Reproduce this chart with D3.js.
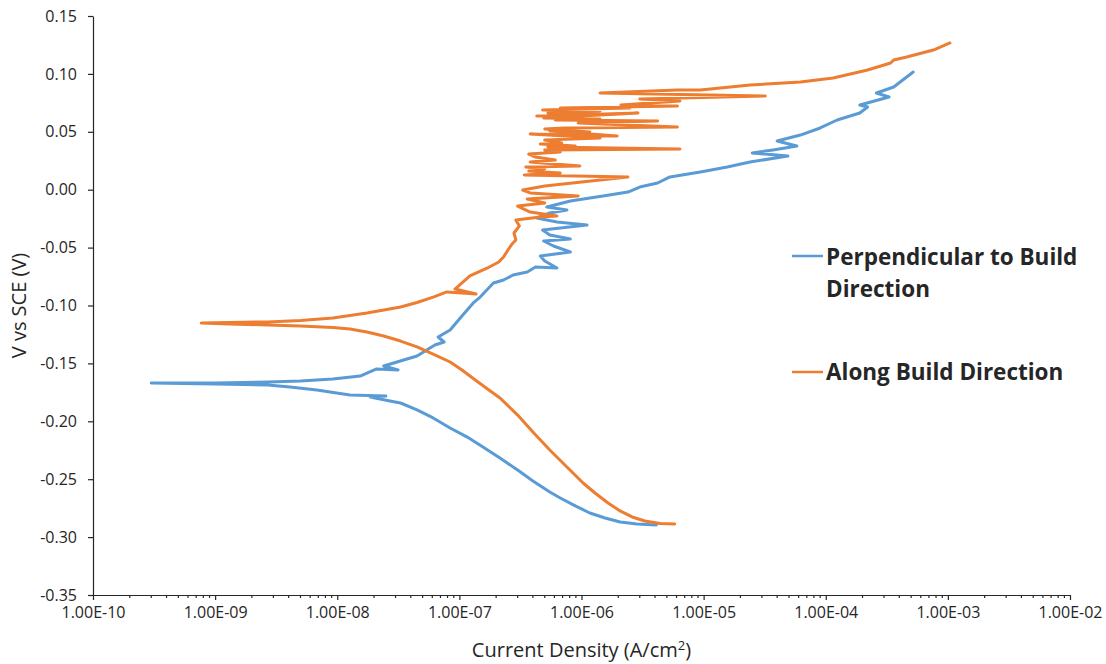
<!DOCTYPE html>
<html>
<head>
<meta charset="utf-8">
<script src="https://cdn.jsdelivr.net/npm/d3@7"></script>
<style>
body { margin: 0; background: #fff; }
text { font-family: "Open Sans", sans-serif; fill: #262626; }
</style>
</head>
<body>
<svg id="chart" width="1106" height="664"></svg>
<script>

// Perpendicular to build direction (cathodic end -> anodic end)
var perpCurrent = [4.1e-6, 2.85e-6, 2.07e-6, 1.56e-6, 1.17e-6, 8.9e-7, 6.7e-7, 5.5e-7, 4.0e-7, 3.0e-7,
  2.15e-7, 1.56e-7, 1.16e-7, 8.4e-8, 6.1e-8, 4.5e-8, 3.3e-8, 2.7e-8, 1.86e-8, 2.5e-8,
  1.27e-8, 6.8e-9, 4.1e-9, 2.7e-9, 1.0e-9, 3.0e-10,
  1.0e-9, 2.7e-9, 5.0e-9, 9.2e-9, 1.54e-8, 2.1e-8, 3.15e-8, 2.4e-8, 4.5e-8, 6.3e-8,
  7.5e-8, 6.7e-8, 8.4e-8, 1.05e-7, 1.3e-7,
  1.48e-7, 1.9e-7, 2.3e-7, 2.75e-7, 3.6e-7, 4.2e-7, 6.3e-7, 5.0e-7, 4.6e-7,
  8.1e-7, 5.9e-7, 4.9e-7, 8.1e-7, 5.5e-7, 4.8e-7, 1.11e-6, 6.3e-7, 4.3e-7, 5.5e-7,
  7.6e-7, 5.2e-7, 8.1e-7, 1.5e-6, 2.4e-6, 3.0e-6, 4.2e-6, 5.3e-6, 9.4e-6, 1.56e-5,
  2.4e-5, 4.9e-5, 2.5e-5, 3.7e-5, 5.8e-5, 4.0e-5, 6.2e-5, 9.0e-5, 1.24e-4, 1.9e-4,
  2.2e-4, 1.9e-4, 3.3e-4, 2.6e-4, 3.6e-4, 5.2e-4];
var perpPotential = [-0.2895, -0.2887, -0.2870, -0.2835, -0.2792, -0.2731, -0.2662, -0.2610, -0.2515, -0.2421,
  -0.2317, -0.2222, -0.2136, -0.2058, -0.1971, -0.1902, -0.1842, -0.1825, -0.1790, -0.1782,
  -0.1773, -0.1730, -0.1704, -0.1687, -0.1678, -0.1669,
  -0.1669, -0.1661, -0.1652, -0.1635, -0.1609, -0.1548, -0.1557, -0.1522, -0.1436, -0.1341,
  -0.1315, -0.1272, -0.1212, -0.1091, -0.0978,
  -0.0927, -0.0806, -0.0780, -0.0737, -0.0711, -0.0668, -0.0676, -0.0616, -0.0573,
  -0.0538, -0.0486, -0.0443, -0.0426, -0.0391, -0.0348, -0.0305, -0.0279, -0.0244, -0.0201,
  -0.0175, -0.0149, -0.0098, -0.0054, -0.0020, 0.0023, 0.0058, 0.0110, 0.0153, 0.0196,
  0.0239, 0.0291, 0.0317, 0.0343, 0.0377, 0.0421, 0.0472, 0.0533, 0.0602, 0.0662,
  0.0714, 0.0731, 0.0801, 0.0835, 0.0887, 0.1016];

// Along build direction
var alongCurrent = [5.8e-6, 4.4e-6, 3.3e-6, 2.6e-6, 2.07e-6, 1.65e-6, 1.29e-6, 1.03e-6, 7.6e-7, 5.5e-7,
  4.0e-7, 3.0e-7, 2.15e-7, 1.7e-7, 1.35e-7, 1.05e-7, 8.4e-8, 6.1e-8, 4.5e-8, 3.3e-8,
  2.4e-8, 1.75e-8, 1.27e-8, 9.2e-9, 5.0e-9, 2.7e-9, 1.3e-9, 7.7e-10,
  1.3e-9, 2.7e-9, 5.0e-9, 9.2e-9, 1.75e-8, 3.3e-8, 4.5e-8, 6.1e-8, 7.9e-8,
  1.37e-7, 9.2e-8, 1.22e-7, 1.7e-7, 2.1e-7, 2.3e-7, 2.5e-7, 2.7e-7, 2.9e-7, 2.8e-7,
  3.1e-7, 2.9e-7, 4.6e-7, 6.3e-7, 3.8e-7, 3.0e-7, 5.0e-7, 3.6e-7, 9.4e-7, 3.8e-7,
  3.3e-7, 5.0e-7, 2.4e-6, 3.4e-7, 6.7e-7, 3.7e-7, 5.0e-7, 3.5e-7, 9.7e-7, 3.8e-7,
  6.1e-7, 4.2e-7, 3.7e-7, 6.7e-7, 5.0e-7, 6.4e-6, 5.3e-7, 8.9e-7, 4.6e-7, 6.9e-7,
  5.0e-7, 1.42e-6, 3.8e-7, 1.96e-6, 5.5e-7, 1.17e-6, 5.0e-7, 7.3e-7, 6.1e-6, 9.4e-7,
  4.2e-6, 6.1e-7, 1.42e-6, 4.9e-7, 2.9e-6, 4.3e-7, 9.7e-7, 5.3e-7, 1.42e-6, 4.8e-7,
  2.5e-6, 6.7e-7, 6.1e-6, 2.1e-6, 6.4e-6, 3.0e-6, 3.2e-5, 1.42e-6, 6.1e-6, 9.4e-6,
  2.4e-5, 6.2e-5, 1.15e-4, 2.2e-4, 3.4e-4, 3.6e-4, 4.6e-4, 7.6e-4, 1.04e-3];
var alongPotential = [-0.2887, -0.2883, -0.2861, -0.2826, -0.2774, -0.2705, -0.2619, -0.2533, -0.2395, -0.2248,
  -0.2093, -0.1946, -0.1799, -0.1721, -0.1643, -0.1557, -0.1488, -0.1419, -0.1358, -0.1307,
  -0.1263, -0.1229, -0.1203, -0.1190, -0.1177, -0.1168, -0.1160, -0.1151,
  -0.1146, -0.1142, -0.1129, -0.1108, -0.1065, -0.1013, -0.0974, -0.0927, -0.0883,
  -0.0901, -0.0858, -0.0745, -0.0676, -0.0624, -0.0581, -0.0521, -0.0469, -0.0434, -0.0374,
  -0.0313, -0.0262, -0.0236, -0.0227, -0.0193, -0.0141, -0.0115, -0.0080, -0.0054, -0.0028,
  -0.0003, 0.0032, 0.0110, 0.0127, 0.0144, 0.0161, 0.0179, 0.0196, 0.0205, 0.0239,
  0.0256, 0.0282, 0.0308, 0.0326, 0.0343, 0.0351, 0.0369, 0.0377, 0.0395, 0.0403,
  0.0429, 0.0446, 0.0481, 0.0464, 0.0507, 0.0498, 0.0524, 0.0533, 0.0541, 0.0576,
  0.0593, 0.0602, 0.0611, 0.0619, 0.0662, 0.0636, 0.0645, 0.0662, 0.0680, 0.0688,
  0.0706, 0.0706, 0.0723, 0.0731, 0.0766, 0.0783, 0.0809, 0.0835, 0.0861, 0.0861,
  0.0904, 0.0930, 0.0965, 0.1034, 0.1094, 0.1120, 0.1146, 0.1206, 0.1267];

var xTickValues = [1e-10, 1e-9, 1e-8, 1e-7, 1e-6, 1e-5, 1e-4, 1e-3, 1e-2];
var xTickLabels = ["1.00E-10", "1.00E-09", "1.00E-08", "1.00E-07", "1.00E-06", "1.00E-05", "1.00E-04", "1.00E-03", "1.00E-02"];
var yTickValues = [-0.35, -0.30, -0.25, -0.20, -0.15, -0.10, -0.05, 0.00, 0.05, 0.10, 0.15];
var yTickLabels = ["-0.35", "-0.30", "-0.25", "-0.20", "-0.15", "-0.10", "-0.05", "0.00", "0.05", "0.10", "0.15"];

var margin = {top: 16, right: 36, bottom: 69, left: 93};
var width = 1106 - margin.left - margin.right;
var height = 664 - margin.top - margin.bottom;

var svg = d3.select("#chart");
var g = svg.append("g").attr("transform", "translate(" + margin.left + "," + margin.top + ")");

var x = d3.scaleLog().domain([1e-10, 1e-2]).range([0, width]);
var y = d3.scaleLinear().domain([-0.35, 0.15]).range([height, 0]);

// minor ticks on the log axis
var minor = [];
for (var k = -10; k < -2; k++) {
  for (var m = 2; m <= 9; m++) minor.push(m * Math.pow(10, k));
}
g.append("g").selectAll("line").data(minor).enter().append("line")
  .attr("x1", function (d) { return x(d); }).attr("x2", function (d) { return x(d); })
  .attr("y1", height).attr("y2", height + 3)
  .attr("stroke", "#262626").attr("stroke-width", 1.2);

var xAxis = g.append("g")
  .attr("transform", "translate(0," + height + ")")
  .call(d3.axisBottom(x).tickValues(xTickValues)
    .tickFormat(function (d, i) { return xTickLabels[i]; })
    .tickSize(5).tickSizeOuter(0).tickPadding(7));

var yAxis = g.append("g")
  .call(d3.axisLeft(y).tickValues(yTickValues)
    .tickFormat(function (d, i) { return yTickLabels[i]; })
    .tickSize(5).tickSizeOuter(0).tickPadding(11));

[xAxis, yAxis].forEach(function (a) {
  a.selectAll("path, line").attr("stroke", "#262626").attr("stroke-width", 1.2);
  a.selectAll("text").style("font-size", "16px").attr("fill", "#262626");
});

var line = d3.line()
  .x(function (d) { return x(d[0]); })
  .y(function (d) { return y(d[1]); });

var series = [
  {name: "Perpendicular", color: "#5B9BD5", pts: d3.zip(perpCurrent, perpPotential)},
  {name: "Along", color: "#ED7D31", pts: d3.zip(alongCurrent, alongPotential)}
];

g.selectAll(".series").data(series).enter().append("path")
  .attr("class", "series")
  .attr("d", function (d) { return line(d.pts); })
  .attr("fill", "none")
  .attr("stroke", function (d) { return d.color; })
  .attr("stroke-width", 3)
  .attr("stroke-linejoin", "round")
  .attr("stroke-linecap", "round");

// axis titles
var xt = svg.append("text")
  .attr("x", margin.left + width / 2).attr("y", 657)
  .attr("text-anchor", "middle")
  .style("font-size", "20px");
xt.append("tspan").text("Current Density (A/cm");
xt.append("tspan").text("2").attr("dy", "-7").style("font-size", "13px");
xt.append("tspan").text(")").attr("dy", "7");

svg.append("text")
  .attr("transform", "translate(26," + (margin.top + height / 2) + ") rotate(-90)")
  .attr("text-anchor", "middle")
  .style("font-size", "20px")
  .text("V vs SCE (V)");

// legend
var legend = svg.append("g");
legend.append("line").attr("x1", 792).attr("x2", 823).attr("y1", 256).attr("y2", 256)
  .attr("stroke", "#5B9BD5").attr("stroke-width", 2.5);
legend.append("line").attr("x1", 792).attr("x2", 823).attr("y1", 372).attr("y2", 372)
  .attr("stroke", "#ED7D31").attr("stroke-width", 2.5);
var lt = legend.append("text").attr("x", 826).attr("y", 265)
  .style("font-size", "22.5px").style("font-weight", "bold").attr("fill", "#000");
lt.append("tspan").attr("x", 826).text("Perpendicular to Build");
lt.append("tspan").attr("x", 826).attr("dy", 32).text("Direction");
legend.append("text").attr("x", 826).attr("y", 380)
  .style("font-size", "22.5px").style("font-weight", "bold").attr("fill", "#000")
  .text("Along Build Direction");

</script>
</body>
</html>
